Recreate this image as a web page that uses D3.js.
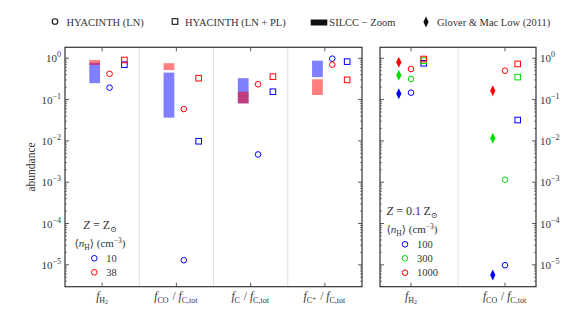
<!DOCTYPE html>
<html>
<head>
<meta charset="utf-8">
<script src="https://cdn.jsdelivr.net/npm/d3@7"></script>
<style>
  body { margin: 0; background: #fff; }
  svg text { font-family: "Liberation Serif", "DejaVu Serif", serif; fill: #333; }
</style>
</head>
<body>
<script>
// ---- data ----
const categoriesLeft = ["H2", "CO", "C", "C+"];
const categoriesRight = ["H2", "CO"];

// SILCC - Zoom ranges [low, high]
const silcc10 = [[0.25, 0.78], [0.0365, 0.45], [0.081, 0.33], [0.35, 0.875]];
const silcc38 = [[0.69, 0.91], [0.52, 0.76], [0.081, 0.155], [0.129, 0.31]];

// HYACINTH, solar metallicity
const lnSolar10 = [0.195, 1.29e-5, 0.0047, 0.98];
const lnSolar38 = [0.42, 0.059, 0.235, 0.70];
const plSolar10 = [0.70, 0.0098, 0.155, 0.83];
const plSolar38 = [0.91, 0.33, 0.36, 0.30];

// 0.1 Zsun
const glover100 = [0.139, 5.66e-6];
const glover300 = [0.39, 0.0116];
const glover1000 = [0.80, 0.164];
const ln100 = [0.147, 9.8e-6];
const ln300 = [0.315, 0.00115];
const ln1000 = [0.55, 0.50];
const pl100 = [0.757, 0.032];
const pl300 = [0.875, 0.35];
const pl1000 = [0.96, 0.73];

const yTicks = [1e-5, 1e-4, 1e-3, 1e-2, 1e-1, 1];
const yTickExp = ["\u22125", "\u22124", "\u22123", "\u22122", "\u22121", "0"];

const BLUE = "#0000ff", RED = "#ff0000", GREEN = "#00e000";

const W = 586, H = 319;
const svg = d3.select("body").append("svg").attr("width", W).attr("height", H)
  .attr("font-family", "Liberation Serif, DejaVu Serif, serif");

const yTop = 47.3, yBot = 286.7;
const y = d3.scaleLog().domain([Math.pow(10, -5.53), Math.pow(10, 0.266)]).range([yBot, yTop]);
const xL = d3.scaleLinear().domain([-0.5, 3.5]).range([65, 362]);
const xR = d3.scaleLinear().domain([-0.33, 1.33]).range([380, 536]);

// minor tick values
let minor = [];
for (let e = -6; e <= 0; e++) for (let m = 2; m <= 9; m++) {
  let v = m * Math.pow(10, e);
  if (v >= y.domain()[0] && v <= y.domain()[1]) minor.push(v);
}

function frame(x, cats, sepVals, labelSide) {
  const g = svg.append("g");
  const x0 = x.range()[0], x1 = x.range()[1];
  // separators
  g.selectAll(".sep").data(sepVals).enter().append("line")
    .attr("x1", d => x(d)).attr("x2", d => x(d))
    .attr("y1", yTop).attr("y2", yBot)
    .attr("stroke", "#d8d8d8").attr("stroke-width", 0.8);
  // y ticks on both spines, inward
  [x0, x1].forEach((sx, i) => {
    const dir = i == 0 ? 1 : -1;
    g.selectAll(null).data(yTicks).enter().append("line")
      .attr("x1", sx).attr("x2", sx + dir * 4)
      .attr("y1", d => y(d)).attr("y2", d => y(d))
      .attr("stroke", "#333").attr("stroke-width", 0.8);
    g.selectAll(null).data(minor).enter().append("line")
      .attr("x1", sx).attr("x2", sx + dir * 2)
      .attr("y1", d => y(d)).attr("y2", d => y(d))
      .attr("stroke", "#333").attr("stroke-width", 0.6);
  });
  // x ticks top and bottom
  g.selectAll(null).data(cats.map((c, i) => i)).enter().append("line")
    .attr("x1", d => x(d)).attr("x2", d => x(d))
    .attr("y1", yBot).attr("y2", yBot - 4)
    .attr("stroke", "#333").attr("stroke-width", 0.8);
  g.selectAll(null).data(cats.map((c, i) => i)).enter().append("line")
    .attr("x1", d => x(d)).attr("x2", d => x(d))
    .attr("y1", yTop).attr("y2", yTop + 4)
    .attr("stroke", "#333").attr("stroke-width", 0.8);
  // tick labels
  const lx = labelSide == "left" ? x0 - 4 : x1 + 4;
  const lab = g.selectAll(null).data(yTicks).enter().append("text")
    .attr("x", lx).attr("y", d => y(d) + 4)
    .attr("text-anchor", labelSide == "left" ? "end" : "start")
    .attr("font-size", 11);
  lab.append("tspan").text("10");
  lab.append("tspan").attr("dy", -5).attr("font-size", 8).text((d, i) => yTickExp[i]);
  return g;
}

function frameBox(x) {
  svg.append("rect")
    .attr("x", x.range()[0]).attr("y", yTop)
    .attr("width", x.range()[1] - x.range()[0]).attr("height", yBot - yTop)
    .attr("fill", "none").attr("stroke", "#333").attr("stroke-width", 1.2);
}

frame(xL, categoriesLeft, [0.5, 1.5, 2.5], "left");
frame(xR, categoriesRight, [0.5], "right");

// ---- left panel marks ----
const boxW = 0.145;
function silccBoxes(data, color) {
  svg.append("g").selectAll("rect").data(data).enter().append("rect")
    .attr("x", (d, i) => xL(i - 0.1 - boxW / 2))
    .attr("width", xL(boxW) - xL(0))
    .attr("y", d => y(d[1]))
    .attr("height", d => y(d[0]) - y(d[1]))
    .attr("fill", color).attr("fill-opacity", 0.5);
}
silccBoxes(silcc10, BLUE);
silccBoxes(silcc38, RED);

function circles(x, data, off, color) {
  svg.append("g").selectAll("circle").data(data).enter().append("circle")
    .attr("cx", (d, i) => x(i + off)).attr("cy", d => y(d)).attr("r", 2.8)
    .attr("fill", "none").attr("stroke", color).attr("stroke-width", 1);
}
function squares(x, data, off, color) {
  svg.append("g").selectAll("rect").data(data).enter().append("rect")
    .attr("x", (d, i) => x(i + off) - 2.8).attr("y", d => y(d) - 2.8)
    .attr("width", 5.6).attr("height", 5.6)
    .attr("fill", "none").attr("stroke", color).attr("stroke-width", 1);
}
const diamondPath = "M0,-5.5L2.6,0L0,5.5L-2.6,0Z";
function diamonds(x, data, off, color) {
  svg.append("g").selectAll("path").data(data).enter().append("path")
    .attr("d", diamondPath)
    .attr("transform", (d, i) => `translate(${x(i + off)},${y(d)})`)
    .attr("fill", color);
}

circles(xL, lnSolar10, 0.1, BLUE);
circles(xL, lnSolar38, 0.1, RED);
squares(xL, plSolar10, 0.3, BLUE);
squares(xL, plSolar38, 0.3, RED);

// ---- right panel marks ----
diamonds(xR, glover100, -0.13, BLUE);
diamonds(xR, glover300, -0.13, GREEN);
diamonds(xR, glover1000, -0.13, RED);
circles(xR, ln100, 0, BLUE);
circles(xR, ln300, 0, GREEN);
circles(xR, ln1000, 0, RED);
squares(xR, pl100, 0.135, BLUE);
squares(xR, pl300, 0.135, GREEN);
squares(xR, pl1000, 0.135, RED);

frameBox(xL);
frameBox(xR);

// ---- category labels ----
function catLabel(x, i, parts) {
  const t = svg.append("text").attr("x", x(i)).attr("y", 300)
    .attr("text-anchor", "middle").attr("font-size", 11.5);
  parts.forEach(p => {
    const s = t.append("tspan").text(p.t);
    if (p.it) s.attr("font-style", "italic");
    if (p.sub) s.attr("font-size", 8).attr("dy", 2.5);
    if (p.subsub) s.attr("font-size", 6).attr("dy", 1.5);
    if (p.up) s.attr("dy", p.up);
  });
}
const fSub = s => [{ t: "f", it: true }, { t: s, sub: true }, { t: "\u200A", up: -2.5 }];
const frac = s => fSub(s).concat([{ t: " / " }], fSub("C,tot"));
catLabel(xL, 0, [{ t: "f", it: true }, { t: "H", sub: true }, { t: "2", subsub: true }, { t: "", up: -4 }]);
catLabel(xL, 1, frac("CO"));
catLabel(xL, 2, frac("C"));
catLabel(xL, 3, frac("C\u207A"));
catLabel(xR, 0, [{ t: "f", it: true }, { t: "H", sub: true }, { t: "2", subsub: true }, { t: "", up: -4 }]);
catLabel(xR, 1, frac("CO"));

// y label
svg.append("text").attr("transform", "translate(35,167) rotate(-90)")
  .attr("text-anchor", "middle").attr("font-size", 11.5).text("abundance");

// ---- top legend ----
const leg = svg.append("g");
leg.append("circle").attr("cx", 55).attr("cy", 21.5).attr("r", 2.8)
  .attr("fill", "none").attr("stroke", "#111").attr("stroke-width", 1.1);
leg.append("text").attr("x", 66.5).attr("y", 25.5).attr("font-size", 10.5).text("HYACINTH (LN)");
leg.append("rect").attr("x", 172.2).attr("y", 18.7).attr("width", 5.6).attr("height", 5.6)
  .attr("fill", "none").attr("stroke", "#111").attr("stroke-width", 1.1);
leg.append("text").attr("x", 185).attr("y", 25.5).attr("font-size", 10.5).text("HYACINTH (LN + PL)");
leg.append("rect").attr("x", 310.7).attr("y", 19.5).attr("width", 16.6).attr("height", 6)
  .attr("fill", "#111");
leg.append("text").attr("x", 329.3).attr("y", 25.5).attr("font-size", 10.5).text("SILCC \u2212 Zoom");
leg.append("path").attr("d", diamondPath).attr("transform", "translate(426,22)").attr("fill", "#111");
leg.append("text").attr("x", 437).attr("y", 25.5).attr("font-size", 10.5).text("Glover & Mac Low (2011)");

// ---- in-panel legends ----
function zLegend(cx, yz, zText, items, colors, mx, ys) {
  const z = svg.append("text").attr("x", cx).attr("y", yz).attr("text-anchor", "middle").attr("font-size", 12);
  z.append("tspan").attr("font-style", "italic").text("Z");
  z.append("tspan").text(" = " + zText + "Z");
  z.append("tspan").attr("font-size", 8).attr("dy", 2.5).text("\u2299");
  const n = svg.append("text").attr("x", cx).attr("y", yz + 18).attr("text-anchor", "middle").attr("font-size", 11);
  n.append("tspan").text("\u27E8");
  n.append("tspan").attr("font-style", "italic").text("n");
  n.append("tspan").attr("font-size", 7.5).attr("dy", 2.5).text("H");
  n.append("tspan").attr("dy", -2.5).text("\u27E9 (cm");
  n.append("tspan").attr("font-size", 7.5).attr("dy", -4.5).text("\u22123");
  n.append("tspan").attr("dy", 4.5).text(")");
  items.forEach((lab, i) => {
    svg.append("circle").attr("cx", mx).attr("cy", ys[i]).attr("r", 2.8)
      .attr("fill", "none").attr("stroke", colors[i]).attr("stroke-width", 1);
    svg.append("text").attr("x", mx + 12).attr("y", ys[i] + 3.5).attr("font-size", 10.5).text(lab);
  });
}
const densSolar = ["10", "38"];
const densLow = ["100", "300", "1000"];
zLegend(100, 229, "", densSolar, [BLUE, RED], 94.3, [258.3, 272.3]);
zLegend(412, 215, "0.1\u2009", densLow, [BLUE, GREEN, RED], 405, [244.3, 258.3, 272.7]);
</script>
</body>
</html>
